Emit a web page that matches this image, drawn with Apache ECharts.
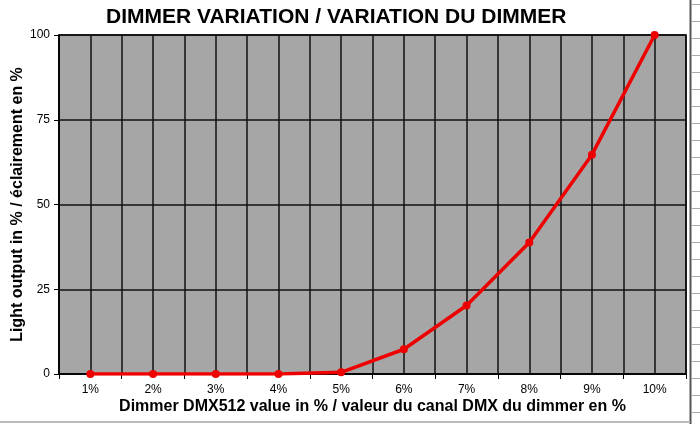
<!DOCTYPE html>
<html>
<head>
<meta charset="utf-8">
<script src="https://cdn.jsdelivr.net/npm/echarts@6/dist/echarts.min.js"></script>
<style>html,body{margin:0;padding:0;background:#fff}#c{width:700px;height:424px}</style>
</head>
<body>
<div id="c"></div>
<script>
var categories = ['1%','2%','3%','4%','5%','6%','7%','8%','9%','10%'];
var lightOutput = [0, 0, 0, 0, 0.5, 7.3, 20.2, 38.8, 64.7, 100];
var yTicks = [0, 25, 50, 75, 100];

var chart = echarts.init(document.getElementById('c'), null, {renderer:'canvas'});
var F = 'Liberation Sans, Arial, sans-serif';

var deco = [];
deco.push({type:'line', shape:{x1:690.5,y1:0,x2:690.5,y2:424}, style:{stroke:'#555',lineWidth:2}, silent:true});
deco.push({type:'line', shape:{x1:0,y1:422,x2:690,y2:422}, style:{stroke:'#bbb',lineWidth:2}, silent:true});
for (var yy = 4.5; yy < 424; yy += 17) {
  deco.push({type:'line', shape:{x1:692,y1:yy,x2:700,y2:yy}, style:{stroke:'#aaa',lineWidth:1}, silent:true});
}

chart.setOption({
  animation:false,
  backgroundColor:'#fff',
  title:{
    text:'DIMMER VARIATION / VARIATION DU DIMMER',
    left:101, top:2,
    textStyle:{fontFamily:F, fontWeight:'bold', fontSize:21, color:'#000'}
  },
  graphic: deco,
  grid:{left:59, right:14, top:35, bottom:50, containLabel:false, outerBoundsMode:'none', show:true, backgroundColor:'#a6a6a6', borderColor:'#000', borderWidth:1.5},
  xAxis:[{
    type:'category', data:categories, boundaryGap:true,
    axisLine:{show:true, lineStyle:{color:'#000', width:1.5}},
    axisTick:{show:true, length:5, alignWithLabel:false, lineStyle:{color:'#000'}},
    axisLabel:{color:'#000', fontFamily:F, fontSize:12, margin:10},
    splitLine:{show:false},
    name:'Dimmer DMX512 value in % / valeur du canal DMX du dimmer en %',
    nameLocation:'middle', nameGap:25, nameMoveOverlap:false,
    nameTextStyle:{fontFamily:F, fontWeight:'bold', fontSize:16, color:'#000'}
  },{
    type:'value', min:0.5, max:10.5, interval:0.5, position:'top',
    axisLine:{show:false}, axisTick:{show:false}, axisLabel:{show:false},
    splitLine:{show:true, lineStyle:{color:'#111', width:1.5}}
  }],
  yAxis:{
    type:'value', min:yTicks[0], max:yTicks[yTicks.length-1], interval:25,
    axisLine:{show:true, lineStyle:{color:'#000', width:1.5}},
    axisTick:{show:true, length:5, lineStyle:{color:'#000'}},
    axisLabel:{color:'#000', fontFamily:F, fontSize:12, margin:9},
    splitLine:{show:true, lineStyle:{color:'#111', width:1.5}},
    name:'Light output in % / éclairement en %',
    nameLocation:'middle', nameGap:33, nameMoveOverlap:false,
    nameTextStyle:{fontFamily:F, fontWeight:'bold', fontSize:16, color:'#000'}
  },
  series:[{
    type:'line', xAxisIndex:0, data:lightOutput,
    lineStyle:{color:'#ee0000', width:3.5},
    itemStyle:{color:'#ee0000'},
    symbol:'circle', symbolSize:8, showSymbol:true, z:5
  }]
});
</script>
</body>
</html>
